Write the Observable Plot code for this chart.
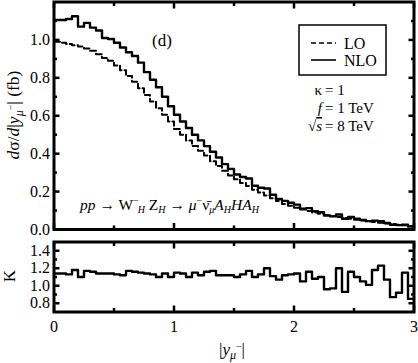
<!DOCTYPE html>
<html><head><meta charset="utf-8">
<script src="https://cdn.jsdelivr.net/npm/d3@7"></script>
<script src="https://cdn.jsdelivr.net/npm/@observablehq/plot@0.6"></script>
<style>
html,body{margin:0;padding:0;background:#fff;}
#wrap{position:relative;width:418px;height:363px;overflow:hidden;font-family:"Liberation Serif",serif;}
#wrap svg{position:absolute;left:0;}
</style></head>
<body><div id="wrap"></div>
<script>
// |y_mu-| bins: 60 bins of width 0.05 from 0 to 3
const binWidth = 0.05;
const LO = [0.990,0.985,0.978,0.972,0.965,0.955,0.943,0.925,0.905,0.890,
            0.865,0.840,0.810,0.780,0.745,0.710,0.675,0.640,0.605,0.570,
            0.530,0.500,0.470,0.440,0.415,0.390,0.360,0.335,0.310,0.285,
            0.265,0.245,0.230,0.210,0.195,0.180,0.165,0.150,0.135,0.125,
            0.115,0.105,0.097,0.090,0.083,0.077,0.071,0.066,0.061,0.057,
            0.052,0.048,0.044,0.040,0.036,0.032,0.029,0.025,0.022,0.019];
const NLO = [1.105,1.105,1.110,1.125,1.070,1.090,1.065,1.050,1.010,1.005,
             0.985,0.960,0.935,0.915,0.880,0.830,0.790,0.750,0.700,0.650,
             0.605,0.570,0.535,0.500,0.470,0.440,0.410,0.380,0.345,0.320,
             0.290,0.277,0.269,0.231,0.220,0.216,0.183,0.161,0.151,0.141,
             0.131,0.110,0.113,0.097,0.091,0.074,0.069,0.079,0.057,0.066,
             0.057,0.050,0.044,0.047,0.044,0.034,0.025,0.023,0.025,0.016];
const K = [1.14,1.14,1.13,1.18,1.10,1.17,1.16,1.14,1.14,1.14,
           1.13,1.12,1.17,1.16,1.15,1.14,1.13,1.10,1.14,1.10,
           1.15,1.14,1.10,1.15,1.12,1.16,1.17,1.12,1.12,1.12,
           1.10,1.13,1.17,1.10,1.13,1.20,1.11,1.07,1.12,1.13,
           1.14,1.05,1.16,1.08,1.10,0.96,0.97,1.20,0.93,1.16,
           1.10,1.05,1.01,1.18,1.23,1.07,0.87,0.92,1.15,0.85];
const xMajor = [0,1,2,3];
const xMinor = [0.5,1.5,2.5];
const yTopLabels = [0.0,0.2,0.4,0.6,0.8,1.0];
const yTopMajor = [0.2,0.4,0.6,0.8,1.0];
const yTopMinor = [0.1,0.3,0.5,0.7,0.9,1.1];
const yBotLabels = [0.8,1.0,1.2,1.4];
const yBotMinor = [0.9,1.1,1.3];

const steps = arr => arr.map((v,i)=>({x:i*binWidth, v})).concat([{x:arr.length*binWidth, v:arr[arr.length-1]}]);
const fmt = d3.format(".1f");
const blank = () => "";
const style = {fontFamily:"'Liberation Serif', serif", fontSize:"16px", color:"black", background:"transparent", overflow:"visible"};

function ticks(opts){
  const {yMaj, yMin, xMaj, xMin} = opts;
  const m = [];
  for (const a of ["left","right"]) {
    m.push(Plot.axisY(yMaj, {anchor:a, tickSize:-6, tickFormat:blank, label:null, strokeWidth:2.5}));
    m.push(Plot.axisY(yMin, {anchor:a, tickSize:-3.5, tickFormat:blank, label:null, strokeWidth:2.5}));
  }
  for (const a of ["top","bottom"]) {
    m.push(Plot.axisX(xMaj, {anchor:a, tickSize:-6, tickFormat:blank, label:null, strokeWidth:2.5}));
    m.push(Plot.axisX(xMin, {anchor:a, tickSize:-3.5, tickFormat:blank, label:null, strokeWidth:2.5}));
  }
  return m;
}

const topChart = Plot.plot({
  width:418, height:236, marginLeft:53.5, marginRight:4.5, marginTop:1.5, marginBottom:7,
  style,
  x:{domain:[0,3]}, y:{domain:[0,1.2]},
  marks:[
    Plot.line(steps(LO), {x:"x", y:"v", curve:"step-after", stroke:"black", strokeWidth:2, strokeDasharray:"6,3"}),
    Plot.line(steps(NLO), {x:"x", y:"v", curve:"step-after", stroke:"black", strokeWidth:2.4}),
    Plot.axisY(yTopLabels, {anchor:"left", tickSize:0, tickPadding:4, tickFormat:fmt, label:null}),
    ...ticks({yMaj:yTopMajor, yMin:yTopMinor, xMaj:xMajor, xMin:xMinor}),
    Plot.frame({stroke:"black", strokeWidth:3})
  ]
});
topChart.style.top = "0px";

const botChart = Plot.plot({
  width:418, height:127, marginLeft:53.5, marginRight:4.5, marginTop:5.5, marginBottom:51.5,
  style,
  x:{domain:[0,3]}, y:{domain:[0.7,1.5]},
  marks:[
    Plot.line(steps(K), {x:"x", y:"v", curve:"step-after", stroke:"black", strokeWidth:2.4}),
    Plot.axisY(yBotLabels, {anchor:"left", tickSize:0, tickPadding:4, tickFormat:fmt, label:null}),
    Plot.axisX(xMajor, {anchor:"bottom", tickSize:0, tickPadding:9, tickFormat:d3.format("d"), label:null}),
    ...ticks({yMaj:yBotLabels, yMin:yBotMinor, xMaj:xMajor, xMin:xMinor}),
    Plot.frame({stroke:"black", strokeWidth:3})
  ]
});
botChart.style.top = "236px";

const wrap = document.getElementById("wrap");
wrap.appendChild(topChart);
wrap.appendChild(botChart);

const ov = `
<svg xmlns="http://www.w3.org/2000/svg" width="418" height="363" style="top:0;left:0;pointer-events:none" font-family="Liberation Serif, serif" fill="black">
  <text x="152" y="46" font-size="17">(d)</text>
  <rect x="299" y="25" width="87" height="50" fill="white" stroke="black" stroke-width="1.5"/>
  <line x1="311" x2="336" y1="43" y2="43" stroke="black" stroke-width="1.6" stroke-dasharray="5,3"/>
  <text x="344" y="48.5" font-size="16">LO</text>
  <line x1="311" x2="336" y1="60" y2="60" stroke="black" stroke-width="1.6"/>
  <text x="344" y="65.5" font-size="16">NLO</text>
  <text x="322" y="95" font-size="15" text-anchor="end">κ</text>
  <text x="325" y="95" font-size="15">= 1</text>
  <text x="322" y="113" font-size="15" text-anchor="end" font-style="italic">f</text>
  <text x="325" y="113" font-size="15">= 1 TeV</text>
  <text x="322" y="131" font-size="15" text-anchor="end">√<tspan text-decoration="overline" font-style="italic">s</tspan></text>
  <text x="325" y="131" font-size="15">= 8 TeV</text>
  <text x="80" y="210" font-size="15.5"><tspan font-style="italic">pp</tspan> → W<tspan font-size="10" dy="-6">−</tspan><tspan font-size="10" font-style="italic" dx="-1" dy="9">H</tspan><tspan dy="-3"> </tspan>Z<tspan font-size="10" font-style="italic" dy="3">H</tspan><tspan dy="-3"> → </tspan><tspan font-style="italic">μ</tspan><tspan font-size="10" dy="-6">−</tspan><tspan dy="6">ν̄</tspan><tspan font-size="10" font-style="italic" dy="3">μ</tspan><tspan font-style="italic" dy="-3">A</tspan><tspan font-size="10" font-style="italic" dy="3">H</tspan><tspan font-style="italic" dy="-3">HA</tspan><tspan font-size="10" font-style="italic" dy="3">H</tspan></text>
  <text transform="translate(19,115) rotate(-90)" text-anchor="middle" font-size="17.5"><tspan font-style="italic">d</tspan>σ/<tspan font-style="italic">d</tspan>|<tspan font-style="italic">y</tspan><tspan font-size="12" font-style="italic" dy="4">μ</tspan><tspan font-size="10" dy="-9">−</tspan><tspan dy="5">| (fb)</tspan></text>
  <text transform="translate(15,276) rotate(-90)" text-anchor="middle" font-size="17">K</text>
  <text x="232" y="355" font-size="17" text-anchor="middle">|<tspan font-style="italic">y</tspan><tspan font-size="12" font-style="italic" dy="4">μ</tspan><tspan font-size="10" dy="-9">−</tspan><tspan dy="5">|</tspan></text>
</svg>`;
wrap.insertAdjacentHTML("beforeend", ov);
</script>
</body></html>
